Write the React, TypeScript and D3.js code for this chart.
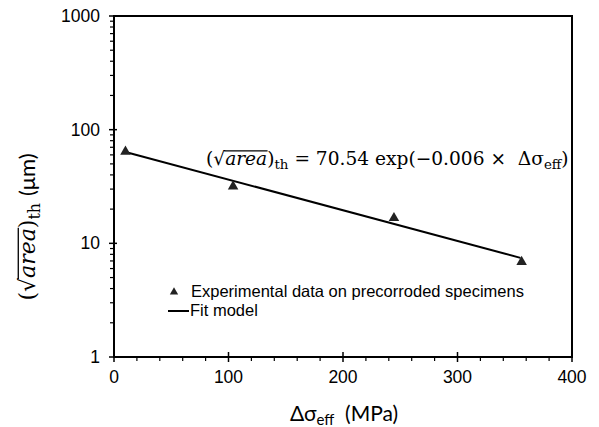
import React, { useRef, useLayoutEffect, useState } from 'react';
import * as d3 from 'd3';

// ---- data ----
const stressValues = [10, 104, 244.5, 356];
const areaValues = [64, 31.7, 16.7, 6.86];
const fitStress = [10, 355];
const fitArea = [63.7, 7.45];
const xTickValues = [0, 100, 200, 300, 400];
const yTickValues = [1, 10, 100, 1000];
const legendLabels = ['Experimental data on precorroded specimens', 'Fit model'];

const W = 599;
const H = 427;
const PL = 114, PR = 572, PT = 16, PB = 357;

const MATH = '"DejaVu Serif", "Liberation Serif", serif';
const SANS = '"Liberation Sans", Arial, sans-serif';
const LABEL = 'Lato, "Open Sans", sans-serif';

function SqrtArea({ x, y, size, anchor, rotate, tail }: any) {
  const sqRef = useRef<SVGTSpanElement>(null);
  const arRef = useRef<SVGTSpanElement>(null);
  const [ov, setOv] = useState<{ x1: number; x2: number } | null>(null);
  useLayoutEffect(() => {
    const s = sqRef.current, a = arRef.current;
    if (!s || !a) return;
    const sEnd = s.getEndPositionOfChar(0).x;
    const aEnd = a.getEndPositionOfChar(3).x;
    setOv({ x1: sEnd - size * 0.05, x2: aEnd + size * 0.02 });
  }, [size]);
  return (
    <g transform={`translate(${x},${y}) rotate(${rotate || 0})`}>
      <text x={0} y={0} fontFamily={MATH} fontSize={size} textAnchor={anchor} fill="#000">
        <tspan>(</tspan>
        <tspan ref={sqRef}>√</tspan>
        <tspan ref={arRef} fontStyle="italic">area</tspan>
        <tspan>)</tspan>
        <tspan fontSize={size * 0.72} dy={size * 0.22}>th</tspan>
        <tspan dy={-size * 0.22}>{tail.pre}</tspan>
        {tail.parts}
      </text>
      {ov && (
        <line x1={ov.x1} x2={ov.x2} y1={-size * 0.76} y2={-size * 0.76} stroke="#000" strokeWidth={size * 0.06} />
      )}
    </g>
  );
}

export default function App() {
  const x = d3.scaleLinear().domain([0, 400]).range([PL, PR]);
  const y = d3.scaleLog().domain([1, 1000]).range([PB, PT]);

  const xMinor = d3.range(0, 401, 20).filter((v) => v % 100 !== 0);
  const yMinor: number[] = [];
  [1, 10, 100].forEach((d) => {
    for (let k = 2; k <= 9; k++) yMinor.push(d * k);
  });

  const tri = d3.symbol().type(d3.symbolTriangle).size(48)() as string;
  const fitLine = d3
    .line<number>()
    .x((_, i) => x(fitStress[i]))
    .y((_, i) => y(fitArea[i]))(fitStress) as string;

  const eqSize = 18.6;
  const ylSize = 22;

  return (
    <svg width={W} height={H} style={{ position: 'absolute', left: 0, top: 0, background: '#fff' }}>
      <rect x={0} y={0} width={W} height={H} fill="#fff" />
      {/* frame */}
      <rect x={PL} y={PT} width={PR - PL} height={PB - PT} fill="none" stroke="#000" strokeWidth={2} />

      {/* x ticks */}
      {xTickValues.map((v) => (
        <g key={'xt' + v}>
          <line x1={x(v)} x2={x(v)} y1={PB - 5} y2={PB + 5} stroke="#000" strokeWidth={1.5} />
          <text x={x(v)} y={PB + 26} fontFamily={SANS} fontSize={17.5} textAnchor="middle" fill="#000">
            {v}
          </text>
        </g>
      ))}
      {xMinor.map((v) => (
        <line key={'xm' + v} x1={x(v)} x2={x(v)} y1={PB} y2={PB + 4} stroke="#000" strokeWidth={1.2} />
      ))}

      {/* y ticks */}
      {yTickValues.map((v) => (
        <g key={'yt' + v}>
          <line x1={PL - 5} x2={PL + 3} y1={y(v)} y2={y(v)} stroke="#000" strokeWidth={1.5} />
          <text x={PL - 14} y={y(v) + 6} fontFamily={SANS} fontSize={17.5} textAnchor="end" fill="#000">
            {v}
          </text>
        </g>
      ))}
      {yMinor.map((v) => (
        <line key={'ym' + v} x1={PL - 4} x2={PL} y1={y(v)} y2={y(v)} stroke="#000" strokeWidth={1.2} />
      ))}

      {/* fit line */}
      <path d={fitLine} fill="none" stroke="#000" strokeWidth={2} />

      {/* data points */}
      {stressValues.map((s, i) => (
        <path key={'p' + i} d={tri} transform={`translate(${x(s)},${y(areaValues[i])})`} fill="#222" />
      ))}

      {/* equation */}
      <SqrtArea
        x={206}
        y={165}
        size={eqSize}
        anchor="start"
        tail={{
          pre: ' = 70.54 exp(−0.006 ×\u00a0 Δσ',
          parts: [
            <tspan key="e" fontSize={eqSize * 0.72} dy={eqSize * 0.22}>eff</tspan>,
            <tspan key="c" dy={-eqSize * 0.22}>)</tspan>,
          ],
        }}
      />

      {/* legend */}
      <path d={d3.symbol().type(d3.symbolTriangle).size(30)() as string} transform="translate(174,292)" fill="#222" />
      <text x={191} y={297} fontFamily={SANS} fontSize={16.5} fill="#000">
        {legendLabels[0]}
      </text>
      <line x1={168} x2={189} y1={311} y2={311} stroke="#000" strokeWidth={2} />
      <text x={190} y={316} fontFamily={SANS} fontSize={16.5} fill="#000">
        {legendLabels[1]}
      </text>

      {/* x label */}
      <text x={344} y={421} fontFamily={LABEL} fontSize={21} textAnchor="middle" fill="#000">
        <tspan>Δσ</tspan>
        <tspan fontSize={15} dy={4}>eff</tspan>
        <tspan dy={-4}>{'\u00a0\u00a0(MPa)'}</tspan>
      </text>

      {/* y label */}
      <SqrtArea
        x={35}
        y={227}
        size={ylSize}
        anchor="middle"
        rotate={-90}
        tail={{
          pre: ' ',
          parts: [
            <tspan key="u" fontFamily={LABEL}>(μm)</tspan>,
          ],
        }}
      />
    </svg>
  );
}
